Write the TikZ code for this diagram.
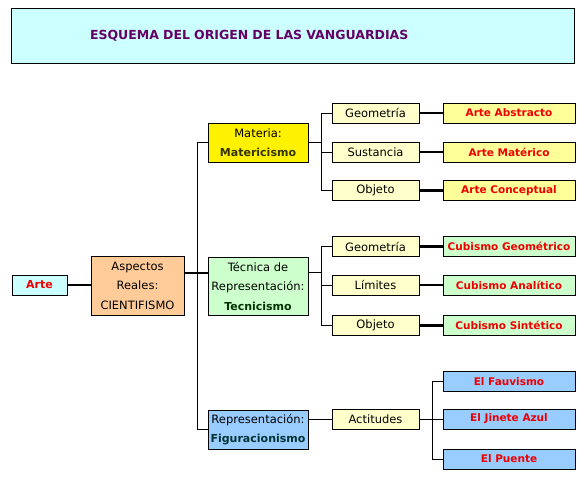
\documentclass[tikz,border=0pt]{standalone}
\usepackage{fontspec}
\setmainfont{DejaVu Sans}
\definecolor{titlebg}{HTML}{CCFFFF}
\definecolor{titlefg}{HTML}{660066}
\definecolor{peach}{HTML}{FFCC99}
\definecolor{lgreen}{HTML}{CCFFCC}
\definecolor{lblue}{HTML}{99CCFF}
\definecolor{lyellow}{HTML}{FFFFCC}
\definecolor{ryellow}{HTML}{FFFF99}
\definecolor{redtxt}{HTML}{EE0000}
\definecolor{olive}{HTML}{333300}
\definecolor{dgreen}{HTML}{003300}
\definecolor{dteal}{HTML}{003333}

\begin{document}
\begin{tikzpicture}[x=1pt, y=-1pt,
    box/.style={draw=black, line width=0.9pt, inner sep=0.5pt, align=center,
        font=\fontsize{11.5}{19.5}\selectfont},
    mainbox/.style={box, minimum width=100pt},
    small/.style={box, fill=lyellow, minimum width=87pt, minimum height=20pt},
    result/.style={box, minimum width=132pt, minimum height=20pt,
        text=redtxt, font=\fontsize{10.5}{12}\selectfont\bfseries},
    thin/.style={line width=0.9pt},
    heavy/.style={line width=2.6pt}]
    \useasboundingbox (0,0) rectangle (587,481);

    \node[draw=black, line width=0.9pt, fill=titlebg, minimum width=563pt,
        minimum height=55pt, text width=405pt, inner xsep=79pt, align=left,
        text=titlefg, font=\fontsize{12.5}{14}\selectfont\bfseries]
        (title) at (292.5,35.5) {ESQUEMA DEL ORIGEN DE LAS VANGUARDIAS};

    \node[box, fill=titlebg, minimum width=55pt, minimum height=20pt,
        text=redtxt, font=\fontsize{11}{12}\selectfont\bfseries]
        (arte) at (39.5,285) {Arte};
    \node[box, fill=peach, minimum width=93pt, minimum height=59pt]
        (aspectos) at (137.5,285.5) {Aspectos\\Reales:\\CIENTIFISMO};

    \node[mainbox, fill=yellow, minimum height=39pt] (materia) at (258,142.5)
        {Materia:\\{\bfseries\fontsize{11}{19.5}\selectfont\color{olive}Matericismo}};
    \node[mainbox, fill=lgreen, minimum height=58pt] (tecnica) at (258,286)
        {Técnica de\\Representación:\\{\bfseries\fontsize{11}{19.5}\selectfont\color{dgreen}Tecnicismo}};
    \node[mainbox, fill=lblue, minimum height=39pt] (repr) at (258,429.5)
        {Representación:\\{\bfseries\fontsize{11}{19.5}\selectfont\color{dteal}Figuracionismo}};

    \foreach \n/\yy/\a/\b/\c in {
        1/113/Geometría/Arte Abstracto/ryellow,
        2/152/Sustancia/Arte Matérico/ryellow,
        3/190.5/Objeto/Arte Conceptual/ryellow,
        4/246.5/Geometría/Cubismo Geométrico/lgreen,
        5/285/Límites/Cubismo Analítico/lgreen,
        6/325.5/Objeto/Cubismo Sintético/lgreen} {
        \node[small] (s\n) at (375.5,\yy) {\a};
        \node[result, fill=\c] (r\n) at (509,\yy) {\b};
        \draw[heavy] (s\n) -- (r\n);
    }

    \node[small] (act) at (375.5,419) {Actitudes};
    \node[result, fill=lblue] (fauv) at (509,381.5) {El Fauvismo};
    \node[result, fill=lblue] (jinete) at (509,419) {El Jinete Azul};
    \node[result, fill=lblue] (puente) at (509,459) {El Puente};

    % tronco principal
    \coordinate (trunk) at (197,273);
    \draw[heavy] (arte.east) -- (arte.east -| aspectos.west);
    \draw[heavy] (aspectos.east |- trunk) -- (tecnica.west |- trunk);
    \draw[thin] (materia.west) -- (materia.west -| trunk)
        -- (repr.west -| trunk) -- (repr.west);

    % ramas
    \coordinate (bm) at (321,142);
    \coordinate (bt) at (321,272);
    \coordinate (ba) at (432,419);
    \draw[thin] (materia.east |- bm) -- (bm);
    \draw[thin] (s1.west -| bm) -- (s3.west -| bm);
    \draw[thin] (tecnica.east |- bt) -- (bt);
    \draw[thin] (s4.west -| bt) -- (s6.west -| bt);
    \foreach \n in {1,...,6}
        \draw[thin] (s\n.west) -- (s\n.west -| bm);

    \draw[thin] (act.west -| repr.east) -- (act.west);
    \draw[thin] (act.east) -- (jinete.west);
    \draw[thin] (fauv.west -| ba) -- (puente.west -| ba);
    \foreach \t in {fauv,puente}
        \draw[thin] (\t.west) -- (\t.west -| ba);
\end{tikzpicture}
\end{document}
